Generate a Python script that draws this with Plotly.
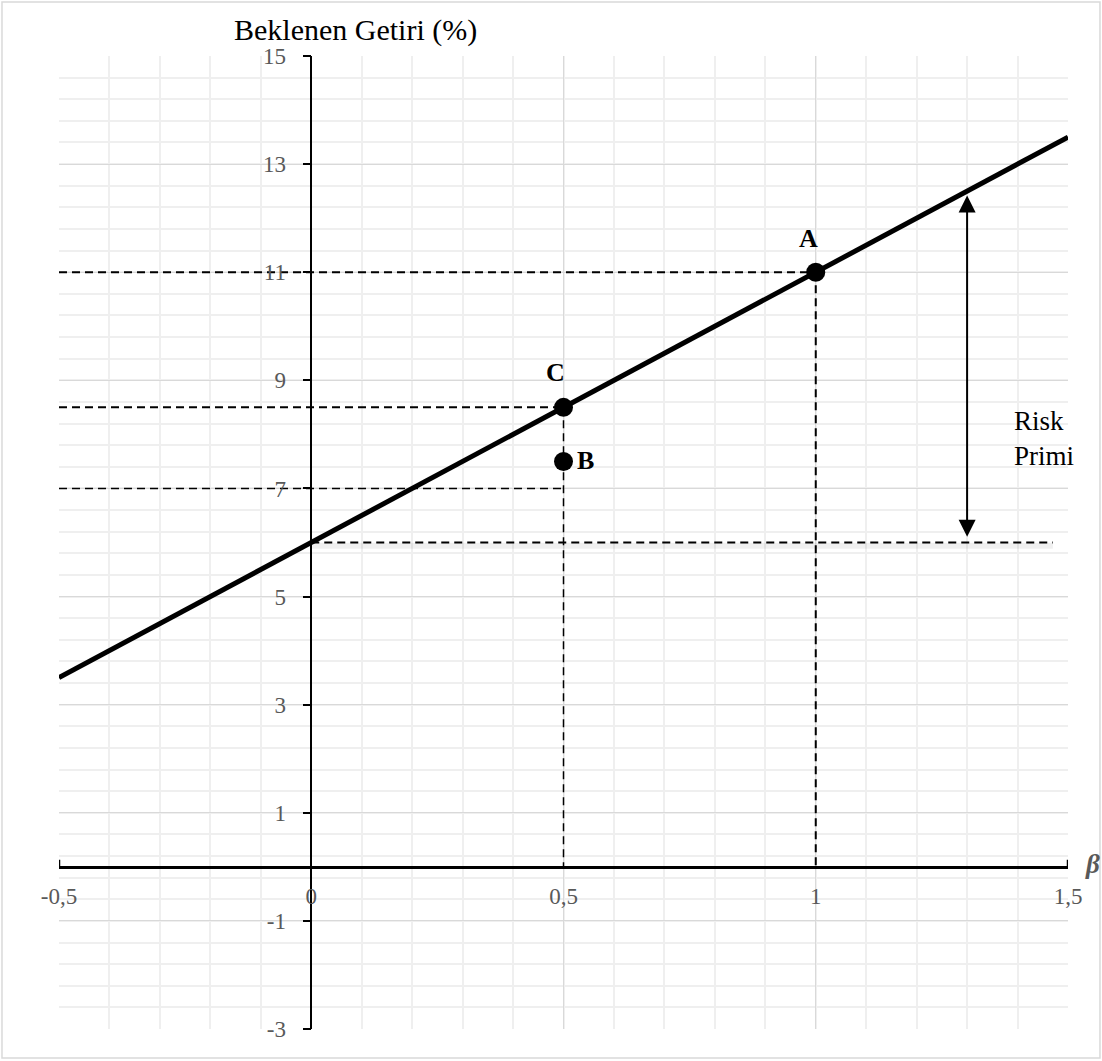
import plotly.graph_objects as go

# ---------------- data ----------------
sml_beta = [-0.5, 1.5]
sml_return = [3.5, 13.5]

point_names = ["A", "C", "B"]
point_beta = [1.0, 0.5, 0.5]
point_return = [11.0, 8.5, 7.5]

arrow_beta = 1.3
arrow_top = 12.42
arrow_bottom = 6.08

x_tick_vals = [-0.5, 0, 0.5, 1, 1.5]
x_tick_text = ["-0,5", "0", "0,5", "1", "1,5"]
y_tick_vals = [15, 13, 11, 9, 7, 5, 3, 1, -1, -3]
y_tick_text = ["15", "13", "11", "9", "7", "5", "3", "1", "-1", "-3"]

# guide (dashed) segments: (x list, y list)
guide_A_h = ([-0.5, 1.0], [11.0, 11.0])
guide_A_v = ([1.0, 1.0], [11.0, 0.0])
guide_C_h = ([-0.5, 0.5], [8.5, 8.5])
guide_C_v = ([0.5, 0.5], [8.5, 0.0])
guide_7_h = ([-0.5, 0.5], [7.0, 7.0])
guide_rf_h = ([0.0, 1.47], [6.0, 6.0])

SERIF = "Liberation Serif, Times New Roman, serif"
GREY = "#595959"

fig = go.Figure()

def dashed(seg, width, shadow=False):
    if shadow:
        fig.add_trace(go.Scatter(x=seg[0], y=[v - 0.06 for v in seg[1]], mode="lines",
                                 line=dict(color="rgba(0,0,0,0.06)", width=6),
                                 hoverinfo="skip", showlegend=False))
    fig.add_trace(go.Scatter(x=seg[0], y=seg[1], mode="lines",
                             line=dict(color="black", width=width, dash="8px,5px"),
                             hoverinfo="skip", showlegend=False))

dashed(guide_rf_h, 2, shadow=True)
dashed(guide_A_h, 2)
dashed(guide_A_v, 2)
dashed(guide_C_h, 2)
dashed(guide_C_v, 1.5)
dashed(guide_7_h, 1.5)

# Security market line
fig.add_trace(go.Scatter(x=sml_beta, y=sml_return, mode="lines",
                         line=dict(color="black", width=5),
                         hoverinfo="skip", showlegend=False))

# points
fig.add_trace(go.Scatter(x=point_beta, y=point_return, mode="markers",
                         marker=dict(color="black", size=19),
                         hoverinfo="skip", showlegend=False))

label_shift = {"A": (-7, 34), "C": (-8, 35), "B": (22, 1)}
for name, bx, ry in zip(point_names, point_beta, point_return):
    dx, dy = label_shift[name]
    fig.add_annotation(x=bx, y=ry, text=name, showarrow=False,
                       xshift=dx, yshift=dy,
                       font=dict(family=SERIF, size=26, color="black", weight="bold"))

# double-headed arrow (risk premium)
fig.add_annotation(x=arrow_beta, y=arrow_top, ax=arrow_beta, ay=arrow_bottom,
                   xref="x", yref="y", axref="x", ayref="y", text="",
                   showarrow=True, arrowside="end+start", arrowhead=2,
                   arrowsize=1.7, arrowwidth=2, arrowcolor="black")
fig.add_annotation(x=1.388, y=7.93, xref="x", yref="y",
                   text="Risk<br>Primi", showarrow=False, xanchor="left", align="left",
                   font=dict(family=SERIF, size=27, color="black"))

# axis titles
fig.add_annotation(x=0.1715, y=1.0267, xref="paper", yref="paper",
                   text="Beklenen Getiri (%)", showarrow=False,
                   xanchor="left", yanchor="middle",
                   font=dict(family=SERIF, size=30, color="black"))
fig.add_annotation(x=1.034, y=0.05, xref="paper", yref="y",
                   text="<b><i>β</i></b>", showarrow=False,
                   font=dict(family=SERIF, size=27, color=GREY))

# small end ticks on the x axis
for xv in (x_tick_vals[0], x_tick_vals[-1]):
    fig.add_shape(type="line", xref="x", yref="y", x0=xv, x1=xv,
                  ysizemode="pixel", yanchor=0, y0=0, y1=7,
                  line=dict(color="black", width=2.5))

# outer chart border
fig.add_shape(type="rect", xref="paper", yref="paper",
              x0=-0.0565, x1=1.0317, y0=-0.0298, y1=1.0555,
              line=dict(color="#d9d9d9", width=1.5), layer="below")

fig.update_layout(
    width=1102, height=1061, autosize=False,
    margin=dict(l=59, r=34, t=56, b=32),
    paper_bgcolor="white", plot_bgcolor="white",
    showlegend=False,
    xaxis=dict(range=[-0.5, 1.5], tickmode="array", tickvals=x_tick_vals,
               ticktext=x_tick_text, ticks="", showline=True, linecolor="black",
               linewidth=2.5, anchor="free", position=1 / 6, zeroline=False,
               showgrid=True, gridcolor="#d9d9d9", gridwidth=1.2,
               minor=dict(tickmode="linear", tick0=-0.5, dtick=0.1, showgrid=True,
                          gridcolor="#efefef", gridwidth=1.5),
               tickfont=dict(family=SERIF, size=23, color=GREY),
               ticklabelstandoff=8, fixedrange=True),
    yaxis=dict(range=[-3, 15], tickmode="array", tickvals=y_tick_vals,
               ticktext=y_tick_text, ticks="outside", ticklen=8, tickwidth=1.5,
               tickcolor="black", showline=True, linecolor="black", linewidth=1.5,
               anchor="free", position=0.25, zeroline=False,
               showgrid=True, gridcolor="#d9d9d9", gridwidth=1.2,
               minor=dict(tickmode="linear", tick0=-3, dtick=0.4, showgrid=True,
                          gridcolor="#efefef", gridwidth=1.5),
               tickfont=dict(family=SERIF, size=23, color=GREY),
               ticklabelstandoff=12, fixedrange=True),
)

fig.write_html("out.html", config={"displayModeBar": False},
               post_script="document.body.style.margin='0';")
